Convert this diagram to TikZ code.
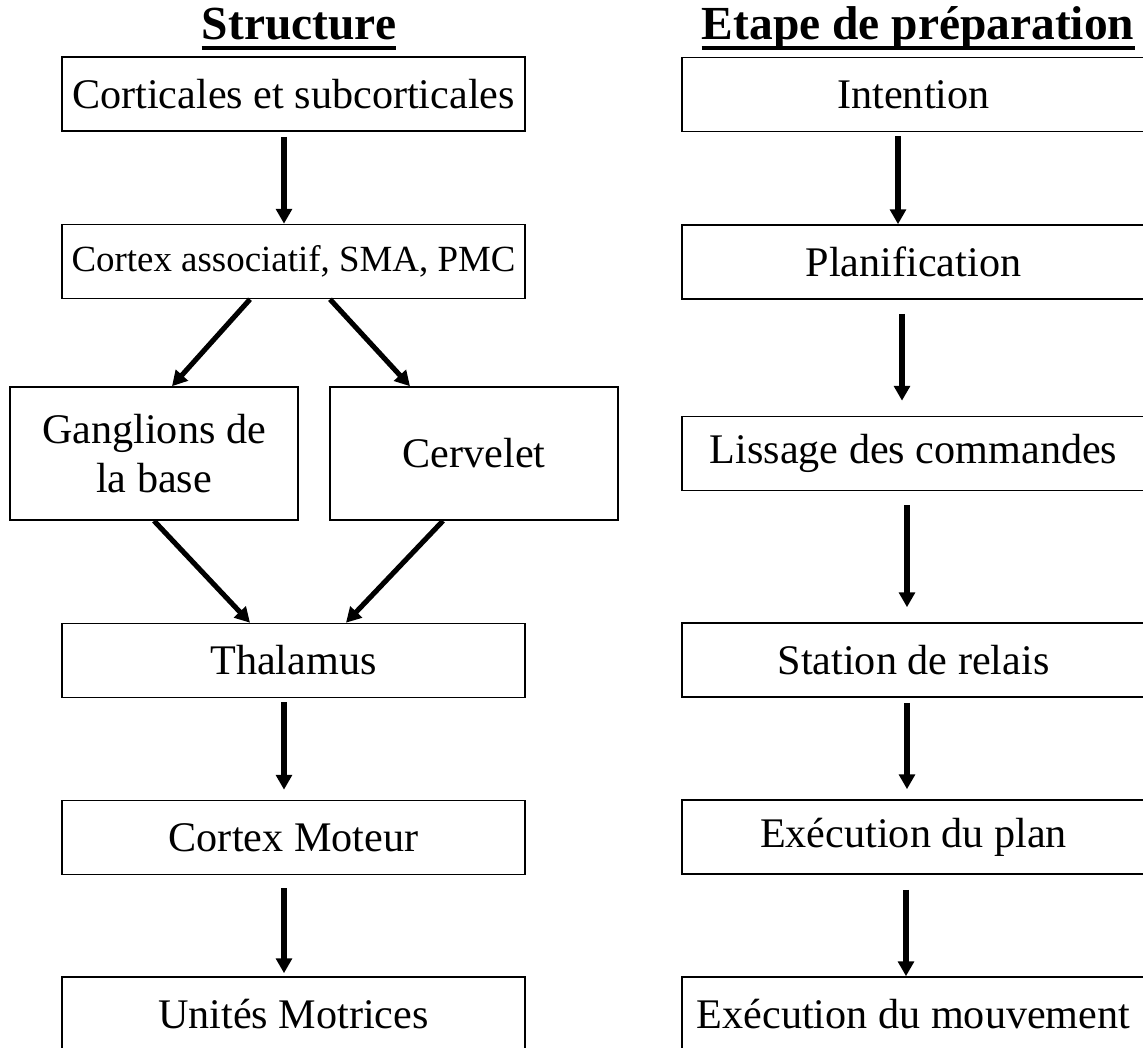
\documentclass[tikz,border=0pt]{standalone}
\usepackage{fontspec}
\setmainfont{Liberation Serif}
\usetikzlibrary{arrows.meta}

\begin{document}
\begin{tikzpicture}[
  boite/.style={draw, line width=0.9pt, minimum width=9.26cm, minimum height=1.48cm, inner sep=0pt, font=\fontsize{24}{27}\selectfont},
  moyenne/.style={boite, minimum width=5.76cm, minimum height=2.66cm, align=center, font=\fontsize{24}{27.5}\selectfont},
  fleche/.style={line width=2.9pt, -{Triangle[width=9pt,length=8.5pt]}},
  titre/.style={font=\fontsize{27}{30}\selectfont\bfseries, anchor=base, inner sep=0pt}]
\useasboundingbox (0, 0) rectangle (22.86, -20.96);

% titres
\node [titre] (tstruct) at (5.98, -0.80) {Structure};
\node [titre] (tetape) at (18.36, -0.80) {Etape de préparation};
\draw [line width=2.2pt] ([yshift=-4.5pt]tstruct.base west) -- ([yshift=-4.5pt]tstruct.base east);
\draw [line width=2.2pt] ([yshift=-4.5pt]tetape.base west) -- ([yshift=-4.5pt]tetape.base east);

% structure
\node [boite] (corticales) at (5.87, -1.88) {Corticales et subcorticales};
\node [boite, font=\fontsize{21}{24}\selectfont] (associatif) at (5.87, -5.23) {Cortex associatif, SMA, PMC};
\node [moyenne] (ganglions) at (3.08, -9.07) {Ganglions de\\la base};
\node [moyenne] (cervelet) at (9.48, -9.07) {Cervelet};
\node [boite] (thalamus) at (5.87, -13.21) {Thalamus};
\node [boite] (moteur) at (5.87, -16.75) {Cortex Moteur};
\node [boite] (unites) at (5.87, -20.28) {Unités Motrices};

\draw [fleche, shorten <=0.1cm] ([xshift=-0.19cm]corticales.south) -- ([xshift=-0.19cm]associatif.north);
\draw [fleche] ([xshift=-0.87cm]associatif.south) -- ([xshift=0.36cm]ganglions.north);
\draw [fleche] ([xshift=0.73cm]associatif.south) -- ([xshift=-1.28cm]cervelet.north);
\draw [fleche] (ganglions.south) -- ([xshift=-0.87cm]thalamus.north);
\draw [fleche] ([xshift=-0.62cm]cervelet.south) -- ([xshift=1.05cm]thalamus.north);
\draw [fleche, shorten <=0.08cm, shorten >=0.2cm] ([xshift=-0.19cm]thalamus.south) -- ([xshift=-0.19cm]moteur.north);
\draw [fleche, shorten <=0.26cm, shorten >=0.06cm] ([xshift=-0.19cm]moteur.south) -- ([xshift=-0.19cm]unites.north);

% etapes
\node [boite] (intention) at (18.27, -1.89) {Intention};
\node [boite] (planif) at (18.27, -5.24) {Planification};
\node [boite] (lissage) at (18.27, -9.07) {Lissage des commandes};
\node [boite] (relais) at (18.27, -13.20) {Station de relais};
\node [boite] (plan) at (18.27, -16.74) {Exécution du plan};
\node [boite] (mouvement) at (18.27, -20.28) {Exécution du mouvement};

\draw [fleche, shorten <=0.08cm] ([xshift=-0.31cm]intention.south) -- ([xshift=-0.31cm]planif.north);
\draw [fleche, shorten <=0.28cm, shorten >=0.3cm] ([xshift=-0.23cm]planif.south) -- ([xshift=-0.23cm]lissage.north);
\draw [fleche, shorten <=0.28cm, shorten >=0.3cm] ([xshift=-0.13cm]lissage.south) -- ([xshift=-0.13cm]relais.north);
\draw [fleche, shorten <=0.1cm, shorten >=0.2cm] ([xshift=-0.13cm]relais.south) -- ([xshift=-0.13cm]plan.north);
\draw [fleche, shorten <=0.3cm] ([xshift=-0.15cm]plan.south) -- ([xshift=-0.15cm]mouvement.north);
\end{tikzpicture}
\end{document}
